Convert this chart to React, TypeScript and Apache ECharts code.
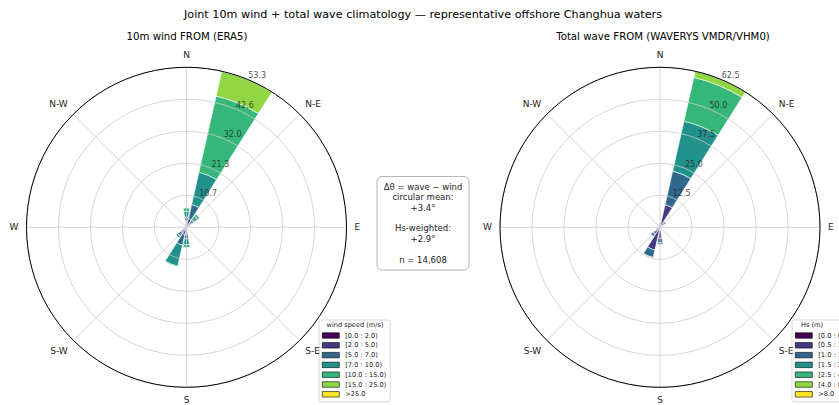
import React, { useEffect, useRef } from "react";
import * as echarts from "echarts";

// Sixteen compass sectors, clockwise from north
const SECTORS = ["N", "NNE", "NE", "ENE", "E", "ESE", "SE", "SSE", "S", "SSW", "SW", "WSW", "W", "WNW", "NW", "NNW"];
const COMPASS_LABELS = ["N", "N-E", "E", "S-E", "S", "S-W", "W", "N-W"];

// 10 m wind (ERA5), frequency % per speed bin and sector
const windBins = ["[0.0 : 2.0)", "[2.0 : 5.0)", "[5.0 : 7.0)", "[7.0 : 10.0)", "[10.0 : 15.0)", "[15.0 : 25.0)", ">25.0"];
const wind0_2 = [0.3, 0.6, 0.3, 0.3, 0.3, 0.2, 0.2, 0.3, 0.4, 0.5, 0.4, 0.3, 0.3, 0.2, 0.3, 0.3];
const wind2_5 = [1.5, 2.4, 1.4, 0.7, 0.4, 0.3, 0.3, 0.6, 1.8, 2.0, 1.8, 0.8, 0.4, 0.3, 0.4, 0.7];
const wind5_7 = [1.6, 4.8, 1.3, 0.3, 0.1, 0.0, 0.0, 0.2, 1.6, 3.6, 1.4, 0.3, 0.1, 0.1, 0.1, 0.3];
const wind7_10 = [1.9, 11.0, 1.5, 0.2, 0.0, 0.0, 0.0, 0.1, 2.0, 7.2, 0.8, 0.1, 0.0, 0.0, 0.0, 0.1];
const wind10_15 = [1.2, 26.0, 0.9, 0.0, 0.0, 0.0, 0.0, 0.0, 1.1, 0.4, 0.1, 0.0, 0.0, 0.0, 0.0, 0.0];
const wind15_25 = [0.2, 8.5, 0.1, 0.0, 0.0, 0.0, 0.0, 0.0, 0.1, 0.0, 0.0, 0.0, 0.0, 0.0, 0.0, 0.0];
const wind25up = [0, 0, 0, 0, 0, 0, 0, 0, 0, 0, 0, 0, 0, 0, 0, 0];
const windSeries = [wind0_2, wind2_5, wind5_7, wind7_10, wind10_15, wind15_25, wind25up];
const windRMax = 53.3;

// Total wave (WAVERYS VMDR/VHM0), frequency % per Hs bin and sector
const waveBins = ["[0.0 : 0.5)", "[0.5 : 1.0)", "[1.0 : 1.5)", "[1.5 : 2.5)", "[2.5 : 4.0)", "[4.0 : 8.0)", ">8.0"];
const hs0_05 = [0.2, 0.6, 0.2, 0.2, 0.1, 0.1, 0.1, 0.2, 0.3, 0.3, 0.3, 0.2, 0.2, 0.1, 0.1, 0.2];
const hs05_1 = [1.3, 8.4, 1.8, 0.5, 0.3, 0.2, 0.2, 0.5, 4.0, 8.8, 3.0, 1.3, 0.6, 0.4, 0.4, 0.9];
const hs1_15 = [0.5, 13.5, 0.8, 0.1, 0.0, 0.0, 0.0, 0.1, 1.8, 3.0, 1.2, 0.4, 0.2, 0.1, 0.1, 0.3];
const hs15_25 = [0.1, 20.0, 0.2, 0.0, 0.0, 0.0, 0.0, 0.0, 0.9, 0.4, 0.2, 0.1, 0.0, 0.0, 0.0, 0.0];
const hs25_4 = [0.0, 17.5, 0.0, 0.0, 0.0, 0.0, 0.0, 0.0, 0.0, 0.0, 0.0, 0.0, 0.0, 0.0, 0.0, 0.0];
const hs4_8 = [0.0, 2.5, 0.0, 0.0, 0.0, 0.0, 0.0, 0.0, 0.0, 0.0, 0.0, 0.0, 0.0, 0.0, 0.0, 0.0];
const hs8up = [0, 0, 0, 0, 0, 0, 0, 0, 0, 0, 0, 0, 0, 0, 0, 0];
const waveSeries = [hs0_05, hs05_1, hs1_15, hs15_25, hs25_4, hs4_8, hs8up];
const waveRMax = 62.5;

// Summary statistics of the direction offset
const summaryLines = ["Δθ = wave − wind", "circular mean:", "+3.4°", "", "Hs-weighted:", "+2.9°", "", "n = 14,608"];

const VIRIDIS7 = ["#440154", "#443983", "#31688e", "#21918c", "#35b779", "#90d743", "#fde725"];
const FONT = "DejaVu Sans";
const GRID_GREY = "#cccccc";
const RING_COUNT = 5;
const LABEL_BEARING = 22.5;

const CY = 227.3;
const R = 160;
const LEFT_CX = 186.5;
const RIGHT_CX = 660;

function ringTicks(rmax: number) {
  const out: number[] = [];
  for (let i = 1; i <= RING_COUNT; i++) out.push((rmax * i) / RING_COUNT);
  return out;
}

function roseAxes(barPolar: number, gridPolar: number, rmax: number) {
  const angle = [
    {
      polarIndex: barPolar,
      type: "category",
      data: SECTORS,
      startAngle: 90 + 360 / SECTORS.length / 2,
      clockwise: true,
      boundaryGap: true,
      axisLine: { show: false },
      axisTick: { show: false },
      axisLabel: { show: false },
      splitLine: { show: false },
    },
    {
      polarIndex: gridPolar,
      type: "value",
      min: 0,
      max: 360,
      interval: 45,
      startAngle: 90,
      clockwise: true,
      z: 4,
      axisLine: { show: true, lineStyle: { color: "#000", width: 1 } },
      axisTick: { show: false },
      axisLabel: {
        show: true,
        margin: 8,
        fontSize: 9,
        color: "#222",
        fontFamily: FONT,
        formatter: (v: number) => (v >= 360 ? "" : COMPASS_LABELS[Math.round(v / 45) % 8]),
      },
      splitLine: { show: true, lineStyle: { color: GRID_GREY, width: 0.8 } },
    },
  ];
  const radius = [
    {
      polarIndex: barPolar,
      type: "value",
      min: 0,
      max: rmax,
      axisLine: { show: false },
      axisTick: { show: false },
      axisLabel: { show: false },
      splitLine: { show: false },
    },
    {
      polarIndex: gridPolar,
      type: "value",
      min: 0,
      max: rmax,
      interval: rmax / RING_COUNT,
      z: 3,
      axisLine: { show: false },
      axisTick: { show: false },
      axisLabel: { show: false },
      splitLine: { show: true, lineStyle: { color: GRID_GREY, width: 0.8 } },
    },
  ];
  return { angle, radius };
}

function roseSeries(barPolar: number, gridPolar: number, stack: string, names: string[], values: number[][], rmax: number) {
  const bars = values.map((vals, i) => ({
    type: "bar",
    name: names[i],
    coordinateSystem: "polar",
    polarIndex: barPolar,
    stack,
    data: vals,
    barCategoryGap: "13%",
    silent: true,
    itemStyle: { color: VIRIDIS7[i], borderColor: "#ffffff", borderWidth: 0.6 },
  }));
  const ringLabels = {
    type: "scatter",
    coordinateSystem: "polar",
    polarIndex: gridPolar,
    silent: true,
    z: 6,
    symbol: "circle",
    symbolSize: 1,
    itemStyle: { color: "rgba(0,0,0,0)" },
    data: ringTicks(rmax).map((r) => [r, LABEL_BEARING]),
    label: {
      show: true,
      position: "right",
      distance: 0,
      verticalAlign: "bottom",
      fontSize: 8,
      color: "#222",
      fontFamily: FONT,
      formatter: (p: any) => Number(p.value[0]).toFixed(1),
    },
  };
  return [...bars, ringLabels];
}

function legendFor(names: string[], left: number) {
  return {
    data: names,
    orient: "vertical",
    left,
    top: 320,
    icon: "rect",
    itemWidth: 17,
    itemHeight: 5.5,
    itemGap: 2.8,
    selectedMode: false,
    padding: [12, 4, 4, 3],
    backgroundColor: "#ffffff",
    borderColor: "#cfcfcf",
    borderWidth: 0.8,
    borderRadius: 2,
    itemStyle: { borderColor: "#000", borderWidth: 0.6 },
    textStyle: { fontSize: 6.6, lineHeight: 7, color: "#222", fontFamily: FONT, padding: [0, 0, 0, 1] },
  };
}

export default function App() {
  const ref = useRef<HTMLDivElement>(null);

  useEffect(() => {
    if (!ref.current) return;
    const chart = echarts.init(ref.current, undefined, { renderer: "svg" });
    const left = roseAxes(0, 1, windRMax);
    const right = roseAxes(2, 3, waveRMax);

    chart.setOption({
      animation: false,
      backgroundColor: "#ffffff",
      textStyle: { fontFamily: FONT },
      polar: [
        { center: [LEFT_CX, CY], radius: R },
        { center: [LEFT_CX, CY], radius: R },
        { center: [RIGHT_CX, CY], radius: R },
        { center: [RIGHT_CX, CY], radius: R },
      ],
      angleAxis: [...left.angle, ...right.angle],
      radiusAxis: [...left.radius, ...right.radius],
      legend: [legendFor(windBins, 319), legendFor(waveBins, 792)],
      series: [
        ...roseSeries(0, 1, "wind", windBins, windSeries, windRMax),
        ...roseSeries(2, 3, "wave", waveBins, waveSeries, waveRMax),
      ],
      graphic: [
        {
          type: "text",
          x: 423,
          y: 14,
          style: { text: "Joint 10m wind + total wave climatology — representative offshore Changhua waters", fontSize: 11.2, fontFamily: FONT, fill: "#000", textAlign: "center", textVerticalAlign: "middle" },
        },
        {
          type: "text",
          x: 187,
          y: 36,
          style: { text: "10m wind FROM (ERA5)", fontSize: 10.2, fontFamily: FONT, fill: "#000", textAlign: "center", textVerticalAlign: "middle" },
        },
        {
          type: "text",
          x: 663,
          y: 36,
          style: { text: "Total wave FROM (WAVERYS VMDR/VHM0)", fontSize: 10.2, fontFamily: FONT, fill: "#000", textAlign: "center", textVerticalAlign: "middle" },
        },
        {
          type: "rect",
          z: 10,
          shape: { x: 377, y: 176.5, width: 92, height: 93.5, r: 5 },
          style: { fill: "#ffffff", stroke: "#b5b5b5", lineWidth: 1 },
        },
        {
          type: "text",
          z: 11,
          x: 423,
          y: 181.6,
          style: { text: summaryLines.join("\n"), fontSize: 8.5, lineHeight: 10.4, fontFamily: FONT, fill: "#222", textAlign: "center", textVerticalAlign: "top" },
        },
        {
          type: "text",
          z: 20,
          x: 355,
          y: 325,
          style: { text: "wind speed (m/s)", fontSize: 6.6, fontFamily: FONT, fill: "#222", textAlign: "center", textVerticalAlign: "middle" },
        },
        {
          type: "text",
          z: 20,
          x: 812,
          y: 325,
          style: { text: "Hs (m)", fontSize: 6.6, fontFamily: FONT, fill: "#222", textAlign: "center", textVerticalAlign: "middle" },
        },
      ],
    });
    return () => chart.dispose();
  }, []);

  return <div ref={ref} style={{ position: "fixed", left: 0, top: 0, width: 839, height: 405 }} />;
}
